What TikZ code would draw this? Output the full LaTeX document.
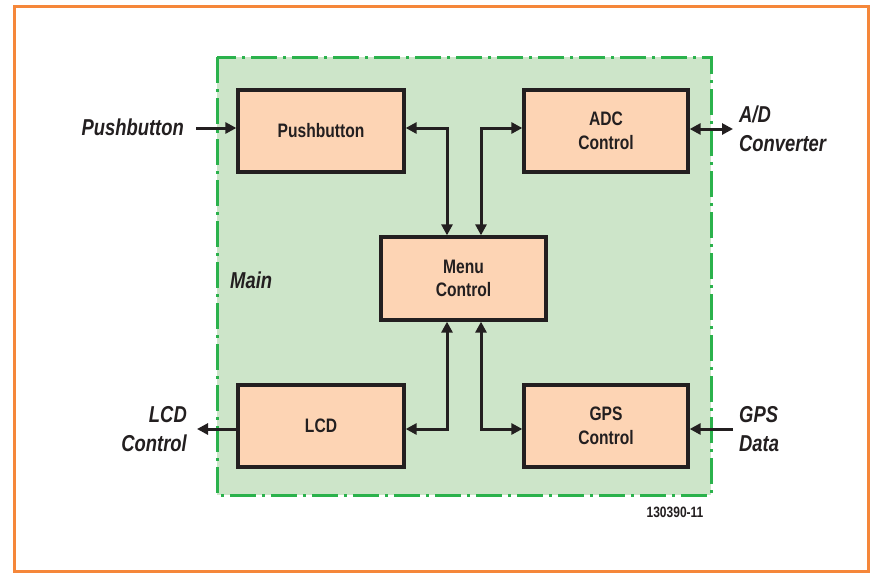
\documentclass[tikz,border=0pt]{standalone}
\usepackage{fontspec}
\setmainfont{Liberation Sans}
\newfontfamily\condsans[FakeStretch=0.8]{Liberation Sans}
\usetikzlibrary{arrows.meta}
\definecolor{frameorange}{HTML}{F5873A}
\definecolor{zonegreen}{HTML}{CDE5C9}
\definecolor{dashgreen}{HTML}{2BB24C}
\definecolor{boxfill}{HTML}{FDD4B4}
\definecolor{ink}{HTML}{231F20}
\tikzset{
  blockbox/.style={draw=ink, fill=boxfill, line width=3.3pt, inner sep=0pt,
    align=center, text=ink, font=\condsans\fontsize{19.5}{23.5}\selectfont\bfseries},
  conn/.style={draw=ink, line width=3pt, -{Triangle[length=11pt,width=11pt]}},
  biconn/.style={draw=ink, line width=3pt, {Triangle[length=11pt,width=11pt]}-{Triangle[length=11pt,width=11pt]}},
  outlabel/.style={font=\condsans\fontsize{23}{28.5}\selectfont\bfseries\itshape, text=ink, inner sep=0pt, align=left},
}
\begin{document}
\begin{tikzpicture}[x=1pt,y=-1pt]
\useasboundingbox (0,0) rectangle (875,573);
\fill[white] (0,0) rectangle (875,573);
\draw[frameorange, line width=3pt] (14.5,6.5) rectangle (868.5,571);
\fill[zonegreen] (217,57) rectangle (711,495);
\draw[dashgreen, line width=3pt, dash pattern=on 26pt off 6pt on 3pt off 6pt] (217,57) rectangle (711,495);

\node[blockbox, minimum width=166pt, minimum height=82pt] (push) at (321,131) {Pushbutton};
\node[blockbox, minimum width=164pt, minimum height=82pt] (adc) at (606,131) {ADC\\Control};
\node[blockbox, minimum width=165pt, minimum height=83pt] (menu) at (463.5,278.5) {Menu\\Control};
\node[blockbox, minimum width=166pt, minimum height=82pt] (lcd) at (321,426) {LCD};
\node[blockbox, minimum width=164pt, minimum height=82pt] (gps) at (606,426) {GPS\\Control};

\coordinate (inpush) at (196,128);
\coordinate (outadc) at (733,129);
\coordinate (outlcd) at (197,429);
\coordinate (ingps) at (733,429);

\draw[conn] (inpush) -- (inpush -| push.west);
\draw[biconn] (adc.east |- outadc) -- (outadc);
\draw[conn] (lcd.west |- outlcd) -- (outlcd);
\draw[conn] (ingps) -- (ingps -| gps.east);

\draw[biconn] (push.east |- 0,128) -- (447,128) -- (447,0 |- menu.north);
\draw[biconn] (adc.west |- 0,128) -- (481,128) -- (481,0 |- menu.north);
\draw[biconn] (lcd.east |- 0,429) -- (447,429) -- (447,0 |- menu.south);
\draw[biconn] (gps.west |- 0,429) -- (481,429) -- (481,0 |- menu.south);

\node[outlabel, anchor=east] (lpush) at (184,127) {Pushbutton};
\node[outlabel, anchor=west] (ladc) at (739,129) {A/D\\Converter};
\node[outlabel, anchor=east, align=right] (llcd) at (187,429) {LCD\\Control};
\node[outlabel, anchor=west] (lgps) at (739,429) {GPS\\Data};
\node[outlabel, anchor=west] (lmain) at (230,280) {Main};
\node[font=\condsans\fontsize{15}{17}\selectfont\bfseries, text=ink, inner sep=0pt] (code) at (675,512) {130390-11};
\end{tikzpicture}
\end{document}
